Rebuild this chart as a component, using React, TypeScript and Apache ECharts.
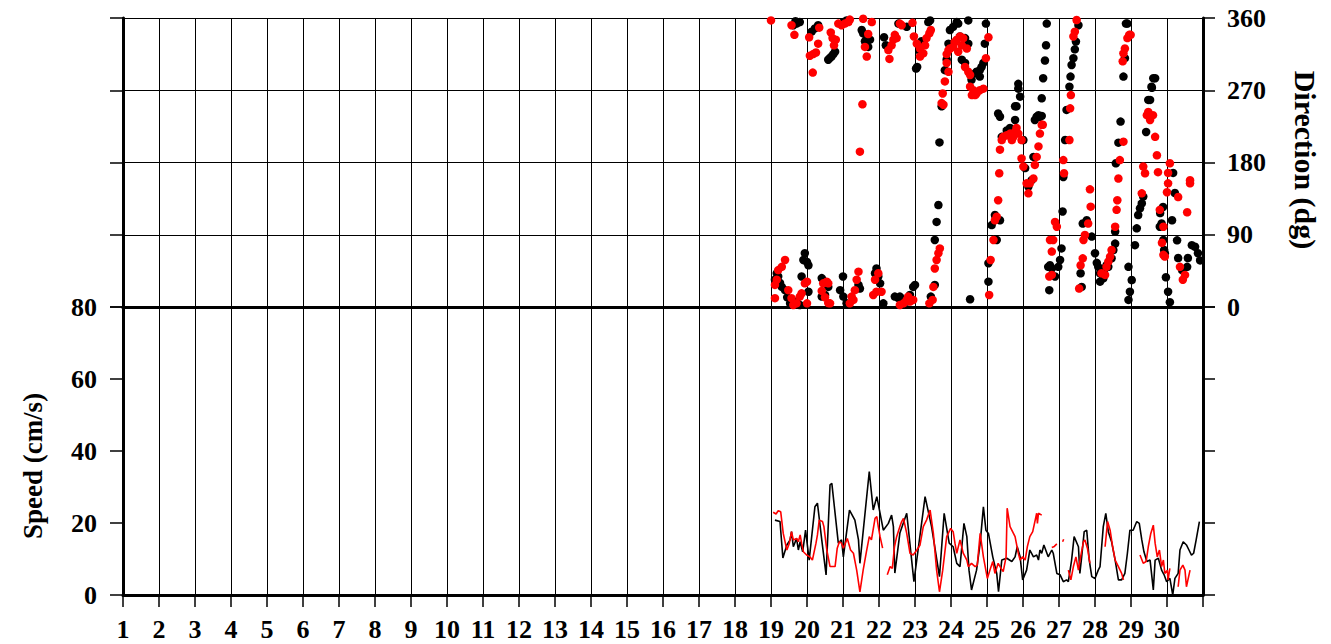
import React, { useEffect, useRef } from "react";
import * as echarts from "echarts";

// ---- Data (day of month, value) ----
const blackDirection: [number, number][] = [
  [19.11, 34], [19.16, 42], [19.2, 38], [19.25, 30], [19.3, 25], [19.39, 21], [19.45, 12], [19.53, 4.6],
  [19.62, 6], [19.71, 6.7], [19.8, 2.5], [19.85, 38], [19.9, 58.6], [19.94, 67], [20.0, 56], [20.04, 52], [20.04, 19],
  [19.62, 351], [19.68, 356], [19.71, 353], [19.8, 355],
  [20.13, 343], [20.22, 347], [20.31, 351],
  [20.41, 13], [20.41, 36], [20.5, 31.6], [20.5, 15], [20.59, 25],
  [20.59, 308], [20.63, 310], [20.68, 312], [20.73, 315], [20.78, 318],
  [21.0, 38], [20.92, 21], [21.01, 13], [21.1, 4.6], [21.01, 355], [21.1, 357],
  [21.43, 27.5], [21.47, 23],
  [21.52, 345], [21.56, 341], [21.61, 331], [21.66, 337], [21.7, 324], [21.75, 333],
  [21.89, 42], [21.93, 48], [21.98, 38], [22.03, 29.5], [22.12, 4.6],
  [22.14, 336], [22.19, 326],
  [22.44, 13], [22.54, 11], [22.63, 8.8], [22.58, 13], [22.68, 8.8], [22.77, 6.7], [22.86, 15], [22.95, 25], [23.0, 27.5],
  [22.54, 353], [22.77, 349],
  [23.03, 297], [23.06, 299], [23.14, 318], [23.18, 331], [23.37, 355], [23.42, 357],
  [23.44, 13], [23.55, 27.5], [23.55, 83.5], [23.6, 106], [23.65, 127], [23.68, 205], [23.74, 250],
  [23.83, 295], [23.88, 308], [23.93, 328], [23.97, 345], [24.06, 349], [24.16, 355], [24.2, 353], [24.25, 337],
  [24.3, 308], [24.39, 304], [24.39, 335], [24.48, 328], [24.48, 357],
  [24.53, 9.6],
  [24.57, 283], [24.67, 291], [24.71, 293], [24.8, 287], [24.8, 295], [24.85, 299], [24.9, 304], [24.94, 328], [24.97, 353],
  [25.04, 31.6], [25.04, 54.5], [25.13, 102], [25.22, 114.6], [25.27, 83.5], [25.36, 108],
  [25.31, 241], [25.36, 237], [25.41, 212], [25.55, 220], [25.64, 223], [25.78, 233], [25.78, 250], [25.82, 250],
  [25.87, 272], [25.87, 278], [25.92, 262],
  [26.01, 208], [26.06, 173], [26.15, 150], [26.24, 158], [26.29, 187], [26.33, 233], [26.38, 237], [26.43, 239], [26.47, 237],
  [26.52, 238], [26.52, 260], [26.56, 285], [26.61, 307], [26.64, 326], [26.66, 353],
  [26.7, 50], [26.73, 21], [26.75, 52], [26.8, 48], [26.89, 38], [26.98, 50], [27.03, 58.6], [27.07, 73],
  [27.1, 119], [27.12, 162], [27.17, 208], [27.21, 245.5], [27.29, 274.5], [27.32, 287], [27.35, 301.5], [27.4, 310],
  [27.44, 321], [27.47, 330.6], [27.54, 351],
  [27.6, 42], [27.63, 25], [27.66, 104], [27.77, 108], [27.91, 87.7], [28.0, 67], [28.05, 55], [28.09, 50], [28.14, 31.6],
  [28.14, 42], [28.23, 35.6], [28.28, 48], [28.32, 52], [28.37, 50], [28.42, 60.6], [28.46, 60.6], [28.51, 71], [28.56, 79], [28.56, 94],
  [28.58, 179], [28.65, 204.7], [28.71, 231], [28.79, 287], [28.83, 310], [28.86, 353], [28.9, 353],
  [28.93, 8.8], [28.97, 19], [29.02, 33.6], [28.93, 50], [29.11, 77], [29.16, 98], [29.2, 114.6], [29.25, 123], [29.3, 129], [29.34, 137.5],
  [29.42, 218], [29.48, 258], [29.53, 258], [29.57, 274.5], [29.58, 273], [29.62, 285], [29.67, 285],
  [29.8, 100], [29.81, 117], [29.85, 104], [29.89, 124.6], [29.9, 83.5], [29.92, 71], [29.94, 67], [29.97, 37], [30.03, 19], [30.08, 6],
  [30.17, 167], [30.22, 142], [30.14, 108], [30.28, 83], [30.31, 61], [30.42, 46], [30.56, 50], [30.58, 61],
  [30.69, 77], [30.78, 75], [30.86, 67], [30.92, 58],
];

const redDirection: [number, number][] = [
  [19.0, 357],
  [19.11, 11], [19.11, 27.5], [19.16, 34], [19.2, 46], [19.3, 50], [19.39, 58.6], [19.48, 21], [19.57, 11], [19.62, 2.5],
  [19.71, 4.6], [19.8, 13], [19.85, 17], [19.94, 29.5], [20.0, 31.6], [20.0, 4.6],
  [19.57, 351], [19.65, 339], [20.06, 336], [20.08, 313], [20.16, 292], [20.17, 315], [20.25, 317], [20.31, 328], [20.34, 348],
  [20.66, 342], [20.71, 335], [20.75, 326], [20.8, 333], [20.87, 353], [20.96, 351], [21.05, 353], [21.15, 355], [21.19, 358],
  [20.41, 20], [20.45, 29.5], [20.5, 12], [20.55, 31.6], [20.59, 29.5], [20.59, 5], [20.64, 4.6],
  [21.19, 4.6], [21.24, 13], [21.29, 8.8], [21.33, 21], [21.38, 34], [21.43, 44],
  [21.47, 193.5], [21.54, 252.5], [21.56, 359], [21.61, 324], [21.66, 312], [21.7, 340], [21.8, 355],
  [21.84, 15], [21.89, 34], [21.93, 19], [21.98, 42], [22.07, 19],
  [22.26, 320], [22.29, 309], [22.35, 326], [22.4, 333], [22.44, 339], [22.49, 335], [22.58, 353], [22.63, 351],
  [22.58, 2.5], [22.68, 4.6], [22.77, 8.8], [22.81, 13], [22.86, 6.7], [22.95, 8.8],
  [22.93, 354], [22.97, 337], [23.05, 328], [23.14, 322], [23.14, 312], [23.23, 316], [23.28, 326], [23.32, 335], [23.4, 341], [23.44, 345],
  [23.4, 4.6], [23.49, 8.8], [23.51, 25], [23.55, 48], [23.6, 58.6], [23.65, 67], [23.69, 73],
  [23.74, 254], [23.77, 266], [23.79, 252], [23.83, 281], [23.88, 304], [23.93, 293], [23.88, 315], [23.93, 320], [23.97, 322],
  [24.06, 324], [24.1, 330], [24.16, 333], [24.25, 337], [24.34, 335], [24.3, 326], [24.44, 322], [24.2, 318],
  [24.39, 299], [24.48, 293], [24.53, 289],
  [24.53, 274.5], [24.58, 264], [24.62, 270], [24.67, 264], [24.71, 266], [24.8, 270], [24.9, 272], [24.97, 310], [25.04, 336],
  [25.06, 15], [25.1, 58.6], [25.18, 83.5], [25.22, 108], [25.27, 112.5], [25.31, 133], [25.34, 166.6],
  [25.36, 196], [25.41, 208], [25.45, 212], [25.55, 214], [25.64, 216], [25.69, 208], [25.73, 212], [25.78, 218], [25.82, 223],
  [25.87, 216], [25.96, 208],
  [25.96, 185], [26.01, 175], [26.1, 154], [26.15, 141.6], [26.19, 154], [26.29, 160], [26.33, 177], [26.38, 187], [26.43, 200],
  [26.47, 216], [26.52, 227], [26.55, 227],
  [26.73, 38], [26.75, 83.5], [26.8, 40], [26.8, 69], [26.84, 83.5], [26.89, 106], [26.94, 100],
  [27.12, 183], [27.14, 166.6], [27.29, 208], [27.31, 247.5], [27.33, 264], [27.4, 337], [27.44, 343], [27.49, 357.5],
  [27.56, 23], [27.6, 52], [27.66, 60.6], [27.68, 83.5], [27.72, 89.7], [27.81, 104], [27.86, 146.6], [27.88, 125],
  [28.18, 42], [28.28, 40], [28.32, 50], [28.37, 56.5], [28.42, 62.8], [28.46, 71], [28.56, 100], [28.6, 121], [28.62, 133],
  [28.65, 160], [28.69, 183], [28.79, 206],
  [28.77, 306], [28.79, 316], [28.83, 322], [28.9, 335], [28.95, 339], [28.99, 339],
  [29.3, 141.6], [29.34, 175], [29.39, 166.6], [29.44, 239], [29.48, 243], [29.53, 233], [29.61, 239], [29.67, 212], [29.72, 189],
  [29.75, 168], [29.8, 121], [29.86, 80], [29.9, 100], [29.9, 65], [29.94, 62.8],
  [30.0, 143], [30.03, 154], [30.03, 167], [30.08, 179], [30.31, 137], [30.36, 50], [30.44, 34], [30.5, 40], [30.56, 118],
  [30.64, 154], [30.64, 158],
];

// null marks a gap in the record
const blackSpeed: ([number, number] | null)[] = [
  [19.11, 20.8], [19.25, 20.4], [19.33, 10.3], [19.44, 13.9], [19.53, 15.3], [19.57, 17.6], [19.62, 13.4], [19.71, 15.7],
  [19.76, 12.5], [19.81, 14.8], [19.88, 12], [19.96, 18], [20.06, 9.7], [20.22, 24.5], [20.29, 25.5], [20.41, 15.3],
  [20.53, 5.6], [20.64, 30.6], [20.69, 31], [20.87, 14.4], [20.96, 15.3], [21.01, 10.6], [21.18, 23.6], [21.33, 20.8],
  [21.43, 15.3], [21.47, 8.8], [21.73, 34.3], [21.84, 23.6], [21.94, 27.3], [22.03, 22.7], [22.12, 18], [22.26, 19.9],
  [22.35, 22.2], [22.4, 19], [22.44, 6.1], [22.58, 17.2], [22.77, 22.7], [22.97, 3.7], [23.28, 27.3], [23.46, 19],
  [23.68, 5.1], [23.81, 22.7], [23.95, 14.4], [24.06, 13.4], [24.16, 8.8], [24.25, 7.9], [24.36, 19.9], [24.44, 16.2],
  [24.5, 6.9], [24.57, 1.4], [24.71, 6.9], [24.81, 14.4], [24.9, 24.5], [24.97, 18], [25.04, 17.1], [25.16, 10.6],
  [25.27, 6], [25.32, 0.9], [25.41, 9.7], [25.55, 10.2], [25.69, 9.3], [25.78, 10.6], [25.84, 13.4], [25.92, 10.6],
  [25.99, 4.2], [26.1, 6.9], [26.19, 12.5], [26.29, 10.6], [26.38, 11.1], [26.43, 9.7], [26.47, 12.5], [26.52, 11.6],
  [26.58, 13.9], [26.7, 10.6], [26.8, 12.5], [26.84, 11.6], [26.94, 6], [27.03, 5.6], [27.12, 3.7], [27.21, 4.2],
  [27.26, 3.7], [27.35, 9.7], [27.42, 16.2], [27.54, 13.4], [27.58, 6], [27.63, 10.6], [27.7, 17.6], [27.77, 18],
  [27.84, 9.7], [27.91, 5.1], [28.0, 4.6], [28.09, 6.9], [28.14, 7.9], [28.23, 19], [28.3, 22.7], [28.37, 17.6],
  [28.46, 14.8], [28.56, 9.7], [28.65, 4.2], [28.74, 4.2], [28.83, 6], [28.9, 11.6], [28.97, 18], [29.06, 18],
  [29.16, 20.4], [29.23, 19.9], [29.3, 15.3], [29.36, 12], [29.44, 9.3], [29.53, 9.7], [29.62, 1.4], [29.67, 9.7],
  [29.76, 10.2], [29.85, 6.9], [29.92, 5.6], [29.99, 3.7], [30.08, 4.6], [30.16, 0], [30.22, 4.6], [30.31, 6],
  [30.36, 12.5], [30.45, 14.8], [30.54, 13.9], [30.61, 12.5], [30.68, 11.1], [30.74, 11.6], [30.81, 15.3], [30.9, 20.4],
];

const redSpeed: ([number, number] | null)[] = [
  [19.06, 23], [19.14, 22.5], [19.2, 23.4], [19.27, 23.1], [19.34, 17.1], [19.44, 12.5], [19.51, 14.4], [19.57, 17.6],
  [19.62, 15.3], [19.71, 15.7], [19.76, 14.8], [19.81, 16.7], [19.85, 14.4], [19.9, 12], [19.99, 11.1], [20.08, 10.6],
  [20.15, 9.7], [20.25, 14.4], [20.29, 16.7], [20.34, 20.8], [20.43, 20.4], [20.47, 19], [20.55, 12.5], [20.64, 7.9],
  [20.78, 7.9], [20.84, 13], [20.9, 14.8], [20.96, 14.4], [21.01, 13], [21.12, 15.7], [21.21, 12.5], [21.29, 11.6],
  [21.38, 6.9], [21.47, 0.9], [21.56, 6.9], [21.65, 12], [21.73, 16.2], [21.79, 15.3], [21.89, 21.3], [21.94, 21.8],
  [21.98, 19], [22.03, 16.2], [22.1, 13],
  null,
  [22.23, 5.6], [22.31, 7.9], [22.37, 7.4], [22.43, 13.4], [22.49, 16.2], [22.58, 19], [22.63, 20.4], [22.68, 21.3],
  [22.72, 19.4], [22.77, 17.1], [22.86, 11.6], [22.95, 11.1], [23.05, 12.5], [23.14, 13.9], [23.23, 19], [23.32, 20.8],
  [23.42, 23.6], [23.51, 17.1], [23.6, 6.9], [23.68, 0.9], [23.77, 6.9], [23.88, 16.2], [23.99, 18.5], [24.06, 17.6],
  [24.11, 14.4], [24.16, 11.6], [24.25, 15.3], [24.34, 11.6], [24.44, 9.7], [24.48, 7.9], [24.57, 8.8], [24.67, 7.9],
  [24.73, 8.3], [24.81, 17.1], [24.9, 10.6], [25.01, 4.6], [25.08, 6.9], [25.16, 9.3], [25.22, 6], [25.31, 8.8],
  [25.39, 7.4], [25.45, 6.5], [25.53, 10.6], [25.56, 24.1], [25.64, 19], [25.71, 17.6], [25.78, 16.2], [25.87, 11.6],
  [25.92, 9.7], [25.99, 10.6], [26.06, 9.7], [26.12, 13.4], [26.19, 16.2], [26.27, 17.6], [26.38, 22.7], [26.4, 19.9],
  [26.43, 22.7], [26.52, 22.2],
  null,
  [26.8, 13.2], [26.87, 13.5], [26.94, 14.2],
  null,
  [27.1, 14.8], [27.13, 15.5],
  null,
  [27.26, 6.9], [27.33, 4.2], [27.4, 7.9], [27.47, 10.6], [27.54, 6.9], [27.6, 10.6], [27.68, 14.8], [27.72, 15.3],
  [27.79, 13], [27.86, 8.8],
  null,
  [28.28, 13.4], [28.35, 20.4], [28.42, 18], [28.49, 13.4], [28.56, 9.7], [28.65, 7.9], [28.74, 6], [28.79, 4.2],
  null,
  [29.25, 11.1], [29.34, 8.8], [29.42, 9.3], [29.48, 13.4], [29.55, 17.1], [29.62, 19.4], [29.67, 14.4], [29.73, 10.6],
  [29.79, 12.5], [29.85, 7.9], [29.9, 9.7], [29.94, 6], [30.01, 6.9], [30.03, 4.2], [30.08, 7.4],
  null,
  [30.31, 2.3], [30.36, 6.9], [30.44, 8.3], [30.5, 6.9], [30.54, 2.3], [30.64, 6.9],
];

const speedTitle = "Speed (cm/s)";
const directionTitle = "Direction (dg)";

const FONT = '"Liberation Serif", "Times New Roman", Times, serif';
const withGaps = (arr: ([number, number] | null)[]) => arr.map((p) => (p === null ? ["-", "-"] : p));

export default function App() {
  const ref = useRef<HTMLDivElement>(null);

  useEffect(() => {
    if (!ref.current) return;
    const chart = echarts.init(ref.current, undefined, { renderer: "svg" });
    const label = { color: "#000", fontFamily: FONT, fontWeight: "bold" as const, fontSize: 26 };
    const frame = { show: true, lineStyle: { color: "#000", width: 3 } };
    const grid = { show: true, lineStyle: { color: "#000", width: 1 } };
    const tick = (len: number) => ({ show: true, inside: false, length: len, lineStyle: { color: "#000", width: 1.5 } });

    chart.setOption({
      animation: false,
      backgroundColor: "#fff",
      grid: [
        { left: 123, top: 18, width: 1080, height: 289 },
        { left: 123, top: 307, width: 1080, height: 288 },
      ],
      graphic: [
        {
          type: "text", x: 33, y: 466, rotation: Math.PI / 2,
          style: { text: speedTitle, fill: "#000", font: `bold 27px ${FONT}`, align: "center", verticalAlign: "middle" },
        },
        {
          type: "text", x: 1305, y: 160, rotation: -Math.PI / 2,
          style: { text: directionTitle, fill: "#000", font: `bold 30px ${FONT}`, align: "center", verticalAlign: "middle" },
        },
      ],
      xAxis: [
        {
          gridIndex: 0, type: "value", min: 1, max: 31, interval: 1, position: "bottom",
          axisLine: frame, axisTick: { show: false }, axisLabel: { show: false }, splitLine: grid,
        },
        {
          gridIndex: 0, type: "value", min: 1, max: 31, interval: 1, position: "top",
          axisLine: frame, axisTick: { show: false }, axisLabel: { show: false }, splitLine: { show: false },
        },
        {
          gridIndex: 1, type: "value", min: 1, max: 31, interval: 1, position: "bottom",
          axisLine: frame, axisTick: tick(12),
          axisLabel: { ...label, margin: 21, formatter: (v: number) => (v >= 31 ? "" : String(v)) },
          splitLine: grid,
        },
      ],
      yAxis: [
        {
          gridIndex: 0, type: "value", min: 0, max: 360, interval: 90, position: "left",
          axisLine: frame, axisTick: tick(13), axisLabel: { show: false }, splitLine: grid,
        },
        {
          gridIndex: 0, type: "value", min: 0, max: 360, interval: 90, position: "right",
          axisLine: frame, axisTick: tick(12), axisLabel: { ...label, margin: 24 }, splitLine: { show: false },
        },
        {
          gridIndex: 1, type: "value", min: 0, max: 80, interval: 20, position: "left",
          axisLine: frame, axisTick: tick(13), axisLabel: { ...label, margin: 26 }, splitLine: { show: false },
        },
        {
          gridIndex: 1, type: "value", min: 0, max: 80, interval: 20, position: "right",
          axisLine: frame, axisTick: tick(12), axisLabel: { show: false }, splitLine: { show: false },
        },
      ],
      series: [
        {
          type: "scatter", xAxisIndex: 0, yAxisIndex: 0, data: blackDirection,
          symbol: "circle", symbolSize: 8.5, itemStyle: { color: "#000", opacity: 1 }, silent: true,
        },
        {
          type: "scatter", xAxisIndex: 0, yAxisIndex: 0, data: redDirection,
          symbol: "circle", symbolSize: 8.5, itemStyle: { color: "#ff0000", opacity: 1 }, silent: true,
        },
        {
          type: "line", xAxisIndex: 2, yAxisIndex: 2, data: withGaps(blackSpeed),
          showSymbol: false, symbol: "none", connectNulls: false,
          lineStyle: { color: "#000", width: 1.6 }, silent: true,
        },
        {
          type: "line", xAxisIndex: 2, yAxisIndex: 2, data: withGaps(redSpeed),
          showSymbol: false, symbol: "none", connectNulls: false,
          lineStyle: { color: "#ff0000", width: 1.6 }, silent: true,
        },
      ],
    });
    return () => chart.dispose();
  }, []);

  return (
    <div
      ref={ref}
      style={{ position: "absolute", left: 0, top: 0, width: 1331, height: 644, background: "#fff" }}
    />
  );
}
